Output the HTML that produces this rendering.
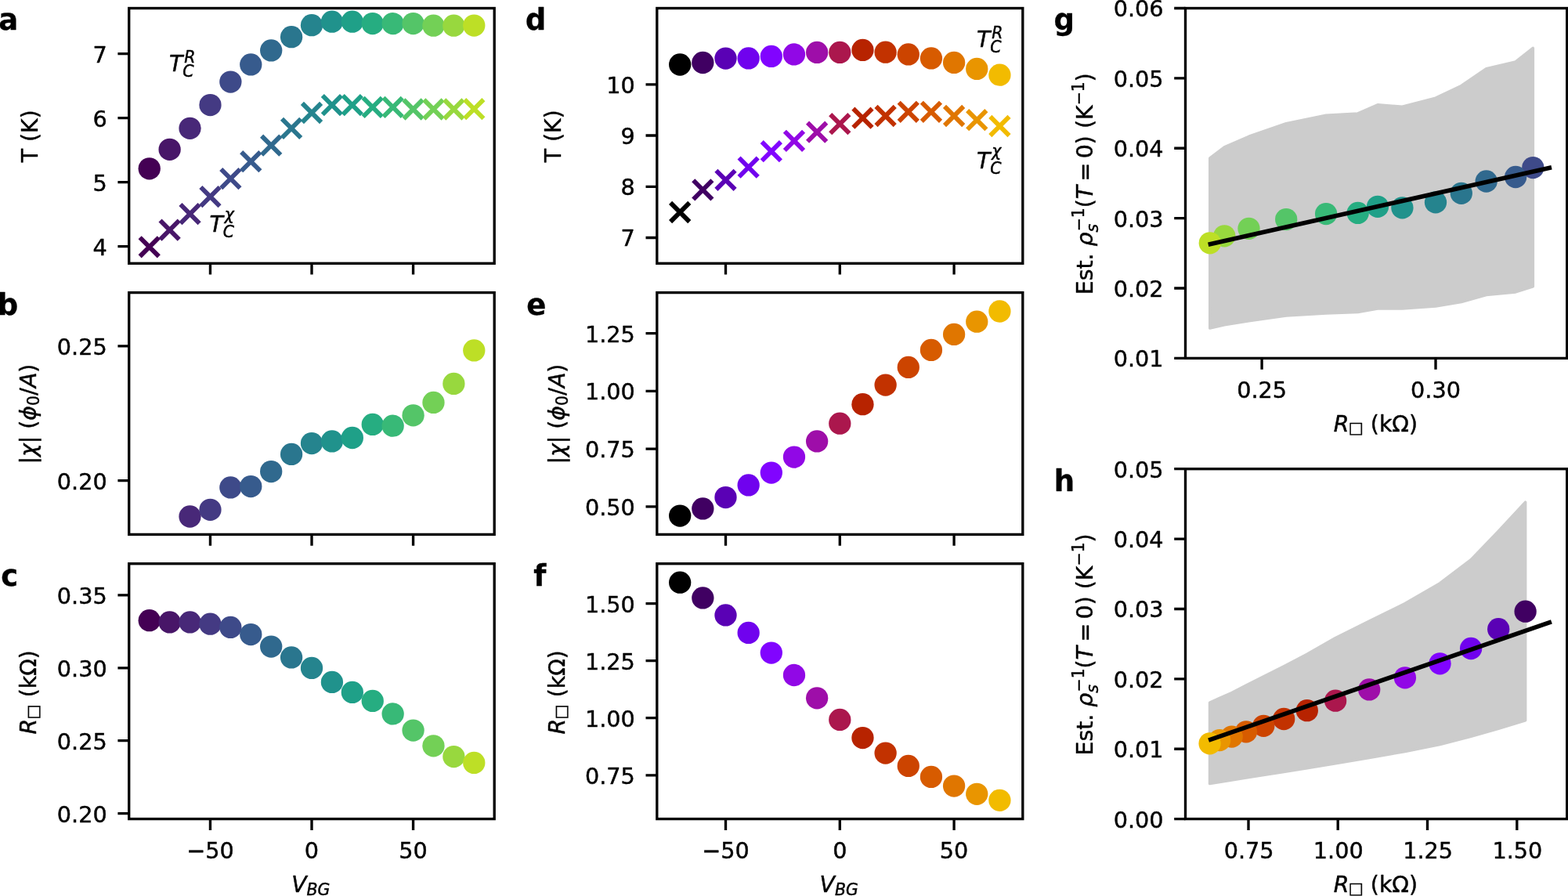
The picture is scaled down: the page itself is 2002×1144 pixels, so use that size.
<!DOCTYPE html>
<html lang="en">
<head>
<meta charset="utf-8">
<title>Figure</title>
<style>
html,body{margin:0;padding:0;background:#fff;}
body{width:2002px;height:1144px;overflow:hidden;font-family:"DejaVu Sans", "Liberation Sans", sans-serif;}
svg{display:block;}
text{white-space:pre;stroke:#000;stroke-width:0.45px;stroke-linejoin:round;}
</style>
</head>
<body>
<svg width="2002" height="1144" viewBox="0 0 2002 1144" font-family='"DejaVu Sans", "Liberation Sans", sans-serif' font-size="28.7" fill="#000">
<rect width="2002" height="1144" fill="#fff"/>
<circle cx="190.72" cy="215.3" r="14.15" fill="#440154"/>
<circle cx="216.63" cy="190.8" r="14.15" fill="#481668"/>
<circle cx="242.54" cy="163.8" r="14.15" fill="#482878"/>
<circle cx="268.45" cy="134.1" r="14.15" fill="#443a83"/>
<circle cx="294.36" cy="104.6" r="14.15" fill="#3e4a89"/>
<circle cx="320.27" cy="82.4" r="14.15" fill="#375b8d"/>
<circle cx="346.18" cy="64.4" r="14.15" fill="#30698e"/>
<circle cx="372.09" cy="47.2" r="14.15" fill="#2a768e"/>
<circle cx="398" cy="32.2" r="14.15" fill="#25848e"/>
<circle cx="423.91" cy="27.7" r="14.15" fill="#20928c"/>
<circle cx="449.82" cy="27.7" r="14.15" fill="#1fa088"/>
<circle cx="475.73" cy="30.1" r="14.15" fill="#26ad81"/>
<circle cx="501.64" cy="30.1" r="14.15" fill="#38b977"/>
<circle cx="527.55" cy="30.1" r="14.15" fill="#54c568"/>
<circle cx="553.46" cy="32.7" r="14.15" fill="#73d056"/>
<circle cx="579.37" cy="32.7" r="14.15" fill="#98d83e"/>
<circle cx="605.28" cy="32.6" r="14.15" fill="#bddf26"/>
<path d="M178.62 303.2l24.2 24.2m0 -24.2l-24.2 24.2" stroke="#440154" stroke-width="5.8" fill="none"/>
<path d="M204.53 281.5l24.2 24.2m0 -24.2l-24.2 24.2" stroke="#481668" stroke-width="5.8" fill="none"/>
<path d="M230.44 261l24.2 24.2m0 -24.2l-24.2 24.2" stroke="#482878" stroke-width="5.8" fill="none"/>
<path d="M256.35 239l24.2 24.2m0 -24.2l-24.2 24.2" stroke="#443a83" stroke-width="5.8" fill="none"/>
<path d="M282.26 216l24.2 24.2m0 -24.2l-24.2 24.2" stroke="#3e4a89" stroke-width="5.8" fill="none"/>
<path d="M308.17 194.1l24.2 24.2m0 -24.2l-24.2 24.2" stroke="#375b8d" stroke-width="5.8" fill="none"/>
<path d="M334.08 173.6l24.2 24.2m0 -24.2l-24.2 24.2" stroke="#30698e" stroke-width="5.8" fill="none"/>
<path d="M359.99 151.8l24.2 24.2m0 -24.2l-24.2 24.2" stroke="#2a768e" stroke-width="5.8" fill="none"/>
<path d="M385.9 131.9l24.2 24.2m0 -24.2l-24.2 24.2" stroke="#25848e" stroke-width="5.8" fill="none"/>
<path d="M411.81 122l24.2 24.2m0 -24.2l-24.2 24.2" stroke="#20928c" stroke-width="5.8" fill="none"/>
<path d="M437.72 122l24.2 24.2m0 -24.2l-24.2 24.2" stroke="#1fa088" stroke-width="5.8" fill="none"/>
<path d="M463.63 124.8l24.2 24.2m0 -24.2l-24.2 24.2" stroke="#26ad81" stroke-width="5.8" fill="none"/>
<path d="M489.54 124.8l24.2 24.2m0 -24.2l-24.2 24.2" stroke="#38b977" stroke-width="5.8" fill="none"/>
<path d="M515.45 127.4l24.2 24.2m0 -24.2l-24.2 24.2" stroke="#54c568" stroke-width="5.8" fill="none"/>
<path d="M541.36 127.4l24.2 24.2m0 -24.2l-24.2 24.2" stroke="#73d056" stroke-width="5.8" fill="none"/>
<path d="M567.27 127.4l24.2 24.2m0 -24.2l-24.2 24.2" stroke="#98d83e" stroke-width="5.8" fill="none"/>
<path d="M593.18 127.1l24.2 24.2m0 -24.2l-24.2 24.2" stroke="#bddf26" stroke-width="5.8" fill="none"/>
<circle cx="242.54" cy="659.5" r="14.15" fill="#482878"/>
<circle cx="268.45" cy="650.8" r="14.15" fill="#443a83"/>
<circle cx="294.36" cy="622.4" r="14.15" fill="#3e4a89"/>
<circle cx="320.27" cy="621.1" r="14.15" fill="#375b8d"/>
<circle cx="346.18" cy="602.1" r="14.15" fill="#30698e"/>
<circle cx="372.09" cy="579.9" r="14.15" fill="#2a768e"/>
<circle cx="398" cy="566.1" r="14.15" fill="#25848e"/>
<circle cx="423.91" cy="563.4" r="14.15" fill="#20928c"/>
<circle cx="449.82" cy="559" r="14.15" fill="#1fa088"/>
<circle cx="475.73" cy="541.9" r="14.15" fill="#26ad81"/>
<circle cx="501.64" cy="543.7" r="14.15" fill="#38b977"/>
<circle cx="527.55" cy="530.3" r="14.15" fill="#54c568"/>
<circle cx="553.46" cy="513.9" r="14.15" fill="#73d056"/>
<circle cx="579.37" cy="489.9" r="14.15" fill="#98d83e"/>
<circle cx="605.28" cy="447.4" r="14.15" fill="#bddf26"/>
<circle cx="190.72" cy="792.2" r="14.15" fill="#440154"/>
<circle cx="216.63" cy="794.4" r="14.15" fill="#481668"/>
<circle cx="242.54" cy="794.4" r="14.15" fill="#482878"/>
<circle cx="268.45" cy="796.7" r="14.15" fill="#443a83"/>
<circle cx="294.36" cy="800.9" r="14.15" fill="#3e4a89"/>
<circle cx="320.27" cy="810.1" r="14.15" fill="#375b8d"/>
<circle cx="346.18" cy="825.6" r="14.15" fill="#30698e"/>
<circle cx="372.09" cy="839.4" r="14.15" fill="#2a768e"/>
<circle cx="398" cy="852.9" r="14.15" fill="#25848e"/>
<circle cx="423.91" cy="870.9" r="14.15" fill="#20928c"/>
<circle cx="449.82" cy="883.9" r="14.15" fill="#1fa088"/>
<circle cx="475.73" cy="894.9" r="14.15" fill="#26ad81"/>
<circle cx="501.64" cy="911.4" r="14.15" fill="#38b977"/>
<circle cx="527.55" cy="932.6" r="14.15" fill="#54c568"/>
<circle cx="553.46" cy="952.3" r="14.15" fill="#73d056"/>
<circle cx="579.37" cy="966.1" r="14.15" fill="#98d83e"/>
<circle cx="605.28" cy="973.9" r="14.15" fill="#bddf26"/>
<circle cx="868.18" cy="82.5" r="14.15" fill="#000000"/>
<circle cx="897.34" cy="80" r="14.15" fill="#400062"/>
<circle cx="926.5" cy="74.6" r="14.15" fill="#5a01b5"/>
<circle cx="955.66" cy="74.4" r="14.15" fill="#7002ee"/>
<circle cx="984.82" cy="71.9" r="14.15" fill="#8104ff"/>
<circle cx="1013.98" cy="69.4" r="14.15" fill="#9108e6"/>
<circle cx="1043.14" cy="66.9" r="14.15" fill="#9e0ea9"/>
<circle cx="1072.3" cy="66.9" r="14.15" fill="#ab174d"/>
<circle cx="1101.46" cy="63.9" r="14.15" fill="#b72300"/>
<circle cx="1130.62" cy="66.7" r="14.15" fill="#c23200"/>
<circle cx="1159.78" cy="69.4" r="14.15" fill="#cc4400"/>
<circle cx="1188.94" cy="74.4" r="14.15" fill="#d75b00"/>
<circle cx="1218.1" cy="79.9" r="14.15" fill="#e07600"/>
<circle cx="1247.26" cy="87.9" r="14.15" fill="#e99500"/>
<circle cx="1276.42" cy="95.7" r="14.15" fill="#f2bb00"/>
<path d="M856.08 258.9l24.2 24.2m0 -24.2l-24.2 24.2" stroke="#000000" stroke-width="5.8" fill="none"/>
<path d="M885.24 230.3l24.2 24.2m0 -24.2l-24.2 24.2" stroke="#400062" stroke-width="5.8" fill="none"/>
<path d="M914.4 217.7l24.2 24.2m0 -24.2l-24.2 24.2" stroke="#5a01b5" stroke-width="5.8" fill="none"/>
<path d="M943.56 201.5l24.2 24.2m0 -24.2l-24.2 24.2" stroke="#7002ee" stroke-width="5.8" fill="none"/>
<path d="M972.72 181.1l24.2 24.2m0 -24.2l-24.2 24.2" stroke="#8104ff" stroke-width="5.8" fill="none"/>
<path d="M1001.88 167.8l24.2 24.2m0 -24.2l-24.2 24.2" stroke="#9108e6" stroke-width="5.8" fill="none"/>
<path d="M1031.04 156.6l24.2 24.2m0 -24.2l-24.2 24.2" stroke="#9e0ea9" stroke-width="5.8" fill="none"/>
<path d="M1060.2 146.1l24.2 24.2m0 -24.2l-24.2 24.2" stroke="#ab174d" stroke-width="5.8" fill="none"/>
<path d="M1089.36 138.6l24.2 24.2m0 -24.2l-24.2 24.2" stroke="#b72300" stroke-width="5.8" fill="none"/>
<path d="M1118.52 135.9l24.2 24.2m0 -24.2l-24.2 24.2" stroke="#c23200" stroke-width="5.8" fill="none"/>
<path d="M1147.68 130.7l24.2 24.2m0 -24.2l-24.2 24.2" stroke="#cc4400" stroke-width="5.8" fill="none"/>
<path d="M1176.84 130.7l24.2 24.2m0 -24.2l-24.2 24.2" stroke="#d75b00" stroke-width="5.8" fill="none"/>
<path d="M1206 135.9l24.2 24.2m0 -24.2l-24.2 24.2" stroke="#e07600" stroke-width="5.8" fill="none"/>
<path d="M1235.16 141.1l24.2 24.2m0 -24.2l-24.2 24.2" stroke="#e99500" stroke-width="5.8" fill="none"/>
<path d="M1264.32 148.9l24.2 24.2m0 -24.2l-24.2 24.2" stroke="#f2bb00" stroke-width="5.8" fill="none"/>
<circle cx="868.18" cy="658.6" r="14.15" fill="#000000"/>
<circle cx="897.34" cy="649.4" r="14.15" fill="#400062"/>
<circle cx="926.5" cy="635.1" r="14.15" fill="#5a01b5"/>
<circle cx="955.66" cy="619.4" r="14.15" fill="#7002ee"/>
<circle cx="984.82" cy="603.6" r="14.15" fill="#8104ff"/>
<circle cx="1013.98" cy="583.6" r="14.15" fill="#9108e6"/>
<circle cx="1043.14" cy="563.4" r="14.15" fill="#9e0ea9"/>
<circle cx="1072.3" cy="540.7" r="14.15" fill="#ab174d"/>
<circle cx="1101.46" cy="516.2" r="14.15" fill="#b72300"/>
<circle cx="1130.62" cy="491.6" r="14.15" fill="#c23200"/>
<circle cx="1159.78" cy="468.9" r="14.15" fill="#cc4400"/>
<circle cx="1188.94" cy="446.9" r="14.15" fill="#d75b00"/>
<circle cx="1218.1" cy="426.9" r="14.15" fill="#e07600"/>
<circle cx="1247.26" cy="410.7" r="14.15" fill="#e99500"/>
<circle cx="1276.42" cy="397.5" r="14.15" fill="#f2bb00"/>
<circle cx="868.18" cy="743.7" r="14.15" fill="#000000"/>
<circle cx="897.34" cy="763.4" r="14.15" fill="#400062"/>
<circle cx="926.5" cy="785.4" r="14.15" fill="#5a01b5"/>
<circle cx="955.66" cy="807.9" r="14.15" fill="#7002ee"/>
<circle cx="984.82" cy="833.6" r="14.15" fill="#8104ff"/>
<circle cx="1013.98" cy="862" r="14.15" fill="#9108e6"/>
<circle cx="1043.14" cy="891.3" r="14.15" fill="#9e0ea9"/>
<circle cx="1072.3" cy="918.9" r="14.15" fill="#ab174d"/>
<circle cx="1101.46" cy="942.1" r="14.15" fill="#b72300"/>
<circle cx="1130.62" cy="961.6" r="14.15" fill="#c23200"/>
<circle cx="1159.78" cy="977.9" r="14.15" fill="#cc4400"/>
<circle cx="1188.94" cy="991.9" r="14.15" fill="#d75b00"/>
<circle cx="1218.1" cy="1003.6" r="14.15" fill="#e07600"/>
<circle cx="1247.26" cy="1013.8" r="14.15" fill="#e99500"/>
<circle cx="1276.42" cy="1021.8" r="14.15" fill="#f2bb00"/>
<path d="M1544.8 201.9L1563.3 187.9L1594.5 174.3L1642.2 157.8L1693.1 147.2L1733.7 145L1759 133.9L1790.4 136.2L1833 125.2L1865.8 109.6L1897.7 87.8L1935.1 79L1957.3 61.5L1957.3 365.8L1935.1 372.9L1897.7 376.4L1865.8 385.4L1833 390.9L1790.4 393.9L1759 393.9L1733.7 398.4L1693.1 399.9L1642.2 403L1594.5 409.7L1563.3 414.7L1544.8 419Z" fill="#ccc" stroke="#ccc" stroke-width="3.6" stroke-linejoin="round"/>
<circle cx="1957.3" cy="214.1" r="14.15" fill="#3e4a89"/>
<circle cx="1935.1" cy="226" r="14.15" fill="#375b8d"/>
<circle cx="1897.7" cy="231.5" r="14.15" fill="#30698e"/>
<circle cx="1865.8" cy="246.8" r="14.15" fill="#2a768e"/>
<circle cx="1833" cy="258.3" r="14.15" fill="#25848e"/>
<circle cx="1790.4" cy="265.3" r="14.15" fill="#20928c"/>
<circle cx="1759" cy="263.8" r="14.15" fill="#1fa088"/>
<circle cx="1733.7" cy="271.9" r="14.15" fill="#26ad81"/>
<circle cx="1693.1" cy="273.1" r="14.15" fill="#38b977"/>
<circle cx="1642.2" cy="280.1" r="14.15" fill="#54c568"/>
<circle cx="1594.5" cy="291.8" r="14.15" fill="#73d056"/>
<circle cx="1563.3" cy="301.3" r="14.15" fill="#98d83e"/>
<circle cx="1544.8" cy="310.3" r="14.15" fill="#bddf26"/>
<path d="M1542.7 312.2L1981 213.8" stroke="#000" stroke-width="5.7" fill="none"/>
<path d="M1544.6 897.2L1557.2 891.5L1572.7 884.7L1591 875.2L1613.3 863.9L1639.2 850.8L1668.8 835.3L1705.1 814.5L1748.2 793.2L1793.9 770.6L1838.5 744.8L1878.1 714.7L1913.2 678.3L1947.6 641.2L1947.6 919.8L1913.2 930.3L1878.1 940.3L1838.5 950.4L1793.9 959.4L1748.2 967.4L1705.1 974.7L1668.8 980.7L1639.2 985.5L1613.3 989.5L1591 993L1572.7 996L1557.2 998.5L1544.6 1000.5Z" fill="#ccc" stroke="#ccc" stroke-width="3.6" stroke-linejoin="round"/>
<circle cx="1947.6" cy="780.7" r="14.15" fill="#400062"/>
<circle cx="1913.2" cy="803.2" r="14.15" fill="#5a01b5"/>
<circle cx="1878.1" cy="828" r="14.15" fill="#7002ee"/>
<circle cx="1838.5" cy="847.3" r="14.15" fill="#8104ff"/>
<circle cx="1793.9" cy="865.3" r="14.15" fill="#9108e6"/>
<circle cx="1748.2" cy="880.4" r="14.15" fill="#9e0ea9"/>
<circle cx="1705.1" cy="894.7" r="14.15" fill="#ab174d"/>
<circle cx="1668.8" cy="907.2" r="14.15" fill="#b72300"/>
<circle cx="1639.2" cy="918" r="14.15" fill="#c23200"/>
<circle cx="1613.3" cy="926.8" r="14.15" fill="#cc4400"/>
<circle cx="1591" cy="934.3" r="14.15" fill="#d75b00"/>
<circle cx="1572.7" cy="940.6" r="14.15" fill="#e07600"/>
<circle cx="1557.2" cy="945.1" r="14.15" fill="#e99500"/>
<circle cx="1544.6" cy="949.3" r="14.15" fill="#f2bb00"/>
<path d="M1543.1 945.1L1980.9 793.9" stroke="#000" stroke-width="5.7" fill="none"/>
<rect x="164.7" y="10.5" width="466.5" height="325.8" fill="none" stroke="#000" stroke-width="3.33"/>
<rect x="164.7" y="373.6" width="466.5" height="308.8" fill="none" stroke="#000" stroke-width="3.33"/>
<rect x="164.7" y="719.7" width="466.5" height="325.9" fill="none" stroke="#000" stroke-width="3.33"/>
<rect x="838.8" y="10.5" width="467" height="325.8" fill="none" stroke="#000" stroke-width="3.33"/>
<rect x="838.8" y="373.6" width="467" height="308.8" fill="none" stroke="#000" stroke-width="3.33"/>
<rect x="838.8" y="719.7" width="467" height="325.9" fill="none" stroke="#000" stroke-width="3.33"/>
<rect x="1513.5" y="10.5" width="487.2" height="446.9" fill="none" stroke="#000" stroke-width="3.33"/>
<rect x="1513.5" y="598.7" width="487.2" height="446.9" fill="none" stroke="#000" stroke-width="3.33"/>
<path d="M268.45 336.3v14.3M398 336.3v14.3M527.55 336.3v14.3" stroke="#000" stroke-width="3.33" fill="none"/>
<path d="M268.45 682.4v14.3M398 682.4v14.3M527.55 682.4v14.3" stroke="#000" stroke-width="3.33" fill="none"/>
<path d="M268.45 1045.6v14.3M398 1045.6v14.3M527.55 1045.6v14.3" stroke="#000" stroke-width="3.33" fill="none"/>
<path d="M926.5 336.3v14.3M1072.3 336.3v14.3M1218.1 336.3v14.3" stroke="#000" stroke-width="3.33" fill="none"/>
<path d="M926.5 682.4v14.3M1072.3 682.4v14.3M1218.1 682.4v14.3" stroke="#000" stroke-width="3.33" fill="none"/>
<path d="M926.5 1045.6v14.3M1072.3 1045.6v14.3M1218.1 1045.6v14.3" stroke="#000" stroke-width="3.33" fill="none"/>
<path d="M1611.1 457.4v14.3M1833 457.4v14.3" stroke="#000" stroke-width="3.33" fill="none"/>
<path d="M1594 1045.6v14.3M1708.2 1045.6v14.3M1822.5 1045.6v14.3M1936.8 1045.6v14.3" stroke="#000" stroke-width="3.33" fill="none"/>
<path d="M164.7 68.6h-14.3M164.7 150.6h-14.3M164.7 232.6h-14.3M164.7 314.6h-14.3" stroke="#000" stroke-width="3.33" fill="none"/>
<text x="136.7" y="79.5" text-anchor="end">7</text>
<text x="136.7" y="161.5" text-anchor="end">6</text>
<text x="136.7" y="243.5" text-anchor="end">5</text>
<text x="136.7" y="325.5" text-anchor="end">4</text>
<path d="M164.7 441.9h-14.3M164.7 613.6h-14.3" stroke="#000" stroke-width="3.33" fill="none"/>
<text x="136.7" y="452.8" text-anchor="end">0.25</text>
<text x="136.7" y="624.5" text-anchor="end">0.20</text>
<path d="M164.7 759.9h-14.3M164.7 852.8h-14.3M164.7 945.7h-14.3M164.7 1038.6h-14.3" stroke="#000" stroke-width="3.33" fill="none"/>
<text x="136.7" y="770.8" text-anchor="end">0.35</text>
<text x="136.7" y="863.7" text-anchor="end">0.30</text>
<text x="136.7" y="956.6" text-anchor="end">0.25</text>
<text x="136.7" y="1049.5" text-anchor="end">0.20</text>
<path d="M838.8 107.8h-14.3M838.8 173h-14.3M838.8 238.3h-14.3M838.8 303.5h-14.3" stroke="#000" stroke-width="3.33" fill="none"/>
<text x="810.8" y="118.7" text-anchor="end">10</text>
<text x="810.8" y="183.9" text-anchor="end">9</text>
<text x="810.8" y="249.2" text-anchor="end">8</text>
<text x="810.8" y="314.4" text-anchor="end">7</text>
<path d="M838.8 425.7h-14.3M838.8 499.4h-14.3M838.8 573.1h-14.3M838.8 646.8h-14.3" stroke="#000" stroke-width="3.33" fill="none"/>
<text x="810.8" y="436.6" text-anchor="end">1.25</text>
<text x="810.8" y="510.3" text-anchor="end">1.00</text>
<text x="810.8" y="584" text-anchor="end">0.75</text>
<text x="810.8" y="657.7" text-anchor="end">0.50</text>
<path d="M838.8 770.7h-14.3M838.8 843.7h-14.3M838.8 916.7h-14.3M838.8 989.8h-14.3" stroke="#000" stroke-width="3.33" fill="none"/>
<text x="810.8" y="781.6" text-anchor="end">1.50</text>
<text x="810.8" y="854.6" text-anchor="end">1.25</text>
<text x="810.8" y="927.6" text-anchor="end">1.00</text>
<text x="810.8" y="1000.7" text-anchor="end">0.75</text>
<path d="M1513.5 10.5h-14.3M1513.5 99.88h-14.3M1513.5 189.26h-14.3M1513.5 278.64h-14.3M1513.5 368.02h-14.3M1513.5 457.4h-14.3" stroke="#000" stroke-width="3.33" fill="none"/>
<text x="1485.5" y="21.4" text-anchor="end">0.06</text>
<text x="1485.5" y="110.78" text-anchor="end">0.05</text>
<text x="1485.5" y="200.16" text-anchor="end">0.04</text>
<text x="1485.5" y="289.54" text-anchor="end">0.03</text>
<text x="1485.5" y="378.92" text-anchor="end">0.02</text>
<text x="1485.5" y="468.3" text-anchor="end">0.01</text>
<path d="M1513.5 598.7h-14.3M1513.5 688.08h-14.3M1513.5 777.46h-14.3M1513.5 866.84h-14.3M1513.5 956.22h-14.3M1513.5 1045.6h-14.3" stroke="#000" stroke-width="3.33" fill="none"/>
<text x="1485.5" y="609.6" text-anchor="end">0.05</text>
<text x="1485.5" y="698.98" text-anchor="end">0.04</text>
<text x="1485.5" y="788.36" text-anchor="end">0.03</text>
<text x="1485.5" y="877.74" text-anchor="end">0.02</text>
<text x="1485.5" y="967.12" text-anchor="end">0.01</text>
<text x="1485.5" y="1056.5" text-anchor="end">0.00</text>
<text x="268.45" y="1096.1" text-anchor="middle">−50</text>
<text x="398" y="1096.1" text-anchor="middle">0</text>
<text x="527.55" y="1096.1" text-anchor="middle">50</text>
<text x="926.5" y="1096.1" text-anchor="middle">−50</text>
<text x="1072.3" y="1096.1" text-anchor="middle">0</text>
<text x="1218.1" y="1096.1" text-anchor="middle">50</text>
<text x="1611.1" y="507.9" text-anchor="middle">0.25</text>
<text x="1833" y="507.9" text-anchor="middle">0.30</text>
<text x="1594.6" y="1096.1" text-anchor="middle">0.75</text>
<text x="1708.8" y="1096.1" text-anchor="middle">1.00</text>
<text x="1823.1" y="1096.1" text-anchor="middle">1.25</text>
<text x="1937.4" y="1096.1" text-anchor="middle">1.50</text>
<text transform="translate(396.95 1138.7)" font-size="28.35" xml:space="preserve"><tspan x="-24.79" y="0" style="font-style:oblique;">V</tspan><tspan x="-5.42" y="4.22" style="font-style:oblique;font-size:20.41px;">BG</tspan></text>
<text transform="translate(1071.3 1138.7)" font-size="28.35" xml:space="preserve"><tspan x="-24.79" y="0" style="font-style:oblique;">V</tspan><tspan x="-5.42" y="4.22" style="font-style:oblique;font-size:20.41px;">BG</tspan></text>
<text transform="translate(1757.1 550.6)" font-size="28.35" xml:space="preserve"><tspan x="-54.43" y="0" style="font-style:oblique;">R</tspan><tspan x="-35.36" y="2.42" style="font-size:20.41px;">□</tspan><tspan x="-16.27" y="0"> (kΩ)</tspan></text>
<text transform="translate(1757.1 1138.7)" font-size="28.35" xml:space="preserve"><tspan x="-54.43" y="0" style="font-style:oblique;">R</tspan><tspan x="-35.36" y="2.42" style="font-size:20.41px;">□</tspan><tspan x="-16.27" y="0"> (kΩ)</tspan></text>
<text transform="translate(47.8 173.8) rotate(-90)" font-size="28.35" xml:space="preserve"><tspan x="-33.53" y="0">T (K)</tspan></text>
<text transform="translate(46.2 528.4) rotate(-90)" font-size="28.35" xml:space="preserve"><tspan x="-64.15" y="0">|</tspan><tspan x="-54.61" y="0" style="font-style:oblique;">χ</tspan><tspan x="-37.86" y="0">| (</tspan><tspan x="-8.28" y="0" style="font-style:oblique;">ϕ</tspan><tspan x="10.4" y="4.22" style="font-size:20.41px;">0</tspan><tspan x="23.77" y="0">/</tspan><tspan x="33.31" y="0" style="font-style:oblique;">A</tspan><tspan x="52.68" y="0">)</tspan></text>
<text transform="translate(46.2 883.05) rotate(-90)" font-size="28.35" xml:space="preserve"><tspan x="-54.43" y="0" style="font-style:oblique;">R</tspan><tspan x="-35.36" y="2.42" style="font-size:20.41px;">□</tspan><tspan x="-16.27" y="0"> (kΩ)</tspan></text>
<text transform="translate(716.4 173.8) rotate(-90)" font-size="28.35" xml:space="preserve"><tspan x="-33.53" y="0">T (K)</tspan></text>
<text transform="translate(720.6 528.4) rotate(-90)" font-size="28.35" xml:space="preserve"><tspan x="-64.15" y="0">|</tspan><tspan x="-54.61" y="0" style="font-style:oblique;">χ</tspan><tspan x="-37.86" y="0">| (</tspan><tspan x="-8.28" y="0" style="font-style:oblique;">ϕ</tspan><tspan x="10.4" y="4.22" style="font-size:20.41px;">0</tspan><tspan x="23.77" y="0">/</tspan><tspan x="33.31" y="0" style="font-style:oblique;">A</tspan><tspan x="52.68" y="0">)</tspan></text>
<text transform="translate(720.8 883.05) rotate(-90)" font-size="28.35" xml:space="preserve"><tspan x="-54.43" y="0" style="font-style:oblique;">R</tspan><tspan x="-35.36" y="2.42" style="font-size:20.41px;">□</tspan><tspan x="-16.27" y="0"> (kΩ)</tspan></text>
<text transform="translate(1395 234.35) rotate(-90)" font-size="28.35" xml:space="preserve"><tspan x="-141.91" y="0">Est. </tspan><tspan x="-80.18" y="0" style="font-style:oblique;">ρ</tspan><tspan x="-60.9" y="-10.79" style="font-size:20.41px;">−1</tspan><tspan x="-62.21" y="7.31" style="font-style:oblique;font-size:20.41px;">s</tspan><tspan x="-30.92" y="0">(</tspan><tspan x="-19.87" y="0" style="font-style:oblique;">T</tspan><tspan x="2.94" y="0">=</tspan><tspan x="32.17" y="0">0) (K</tspan><tspan x="100.11" y="-10.79" style="font-size:20.41px;">−1</tspan><tspan x="130.09" y="0">)</tspan></text>
<text transform="translate(1395 822.55) rotate(-90)" font-size="28.35" xml:space="preserve"><tspan x="-141.91" y="0">Est. </tspan><tspan x="-80.18" y="0" style="font-style:oblique;">ρ</tspan><tspan x="-60.9" y="-10.79" style="font-size:20.41px;">−1</tspan><tspan x="-62.21" y="7.31" style="font-style:oblique;font-size:20.41px;">s</tspan><tspan x="-30.92" y="0">(</tspan><tspan x="-19.87" y="0" style="font-style:oblique;">T</tspan><tspan x="2.94" y="0">=</tspan><tspan x="32.17" y="0">0) (K</tspan><tspan x="100.11" y="-10.79" style="font-size:20.41px;">−1</tspan><tspan x="130.09" y="0">)</tspan></text>
<text transform="translate(216 91)" font-size="28.35" xml:space="preserve"><tspan x="0" y="0" style="font-style:oblique;">T</tspan><tspan x="19.27" y="-10.79" style="font-style:oblique;font-size:20.41px;">R</tspan><tspan x="17.29" y="7.31" style="font-style:oblique;font-size:20.41px;">C</tspan></text>
<text transform="translate(267.5 296)" font-size="28.35" xml:space="preserve"><tspan x="0" y="0" style="font-style:oblique;">T</tspan><tspan x="19.27" y="-14.6" style="font-style:oblique;font-size:20.41px;">χ</tspan><tspan x="17.29" y="7.31" style="font-style:oblique;font-size:20.41px;">C</tspan></text>
<text transform="translate(1247 60)" font-size="28.35" xml:space="preserve"><tspan x="0" y="0" style="font-style:oblique;">T</tspan><tspan x="19.27" y="-10.79" style="font-style:oblique;font-size:20.41px;">R</tspan><tspan x="17.29" y="7.31" style="font-style:oblique;font-size:20.41px;">C</tspan></text>
<text transform="translate(1247 214.8)" font-size="28.35" xml:space="preserve"><tspan x="0" y="0" style="font-style:oblique;">T</tspan><tspan x="19.27" y="-14.6" style="font-style:oblique;font-size:20.41px;">χ</tspan><tspan x="17.29" y="7.31" style="font-style:oblique;font-size:20.41px;">C</tspan></text>
<text x="23.2" y="38.4" text-anchor="end" style="font-size:37px;font-weight:bold;stroke-width:0.3px;">a</text>
<text x="23.2" y="401.5" text-anchor="end" style="font-size:37px;font-weight:bold;stroke-width:0.3px;">b</text>
<text x="23.2" y="747.6" text-anchor="end" style="font-size:37px;font-weight:bold;stroke-width:0.3px;">c</text>
<text x="697.3" y="38.4" text-anchor="end" style="font-size:37px;font-weight:bold;stroke-width:0.3px;">d</text>
<text x="697.3" y="401.5" text-anchor="end" style="font-size:37px;font-weight:bold;stroke-width:0.3px;">e</text>
<text x="697.3" y="747.6" text-anchor="end" style="font-size:37px;font-weight:bold;stroke-width:0.3px;">f</text>
<text x="1372" y="38.4" text-anchor="end" style="font-size:37px;font-weight:bold;stroke-width:0.3px;">g</text>
<text x="1372" y="626.6" text-anchor="end" style="font-size:37px;font-weight:bold;stroke-width:0.3px;">h</text>
</svg>
</body>
</html>
